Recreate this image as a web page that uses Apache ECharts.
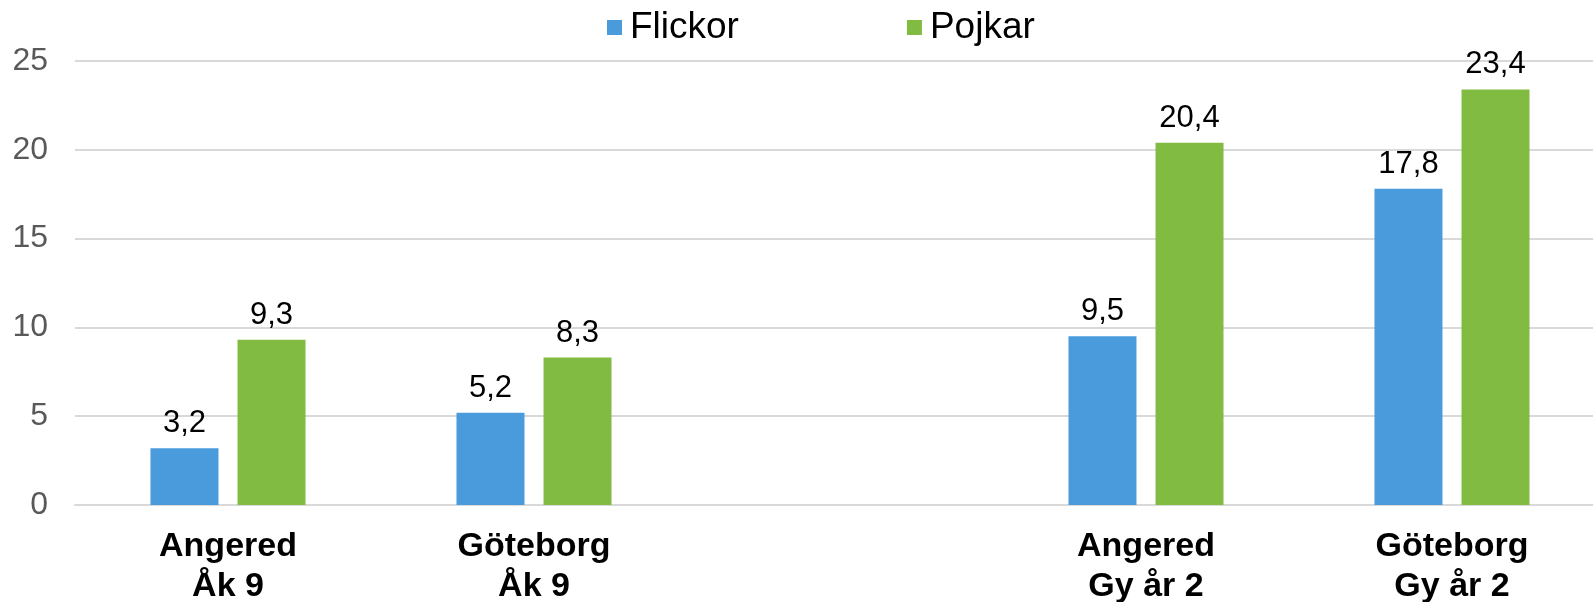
<!DOCTYPE html>
<html>
<head>
<meta charset="utf-8">
<script src="https://cdn.jsdelivr.net/npm/echarts@6/dist/echarts.min.js"></script>
<style>
    html, body { margin: 0; padding: 0; background: #fff; }
    #chart { width: 1593px; height: 602px; }
</style>
</head>
<body>
<div id="chart"></div>
<script>
var categories = ['Angered\nÅk 9', 'Göteborg\nÅk 9', '', 'Angered\nGy år 2', 'Göteborg\nGy år 2'];
var flickor = [3.2, 5.2, null, 9.5, 17.8];
var pojkar = [9.3, 8.3, null, 20.4, 23.4];
var yTicks = [0, 5, 10, 15, 20, 25];

var myChart = echarts.init(document.getElementById('chart'));

function commaLabel(p) {
    return String(p.value).replace('.', ',');
}

var option = {
    textStyle: { fontFamily: 'Liberation Sans, Arial, sans-serif' },
    legend: {
        top: 4,
        left: 602,
        itemWidth: 15,
        itemHeight: 15,
        itemGap: 168,
        icon: 'rect',
        textStyle: { fontSize: 37, color: '#000', padding: [0, 0, 0, 3] },
        data: ['Flickor', 'Pojkar']
    },
    grid: {
        left: 75,
        top: 61,
        bottom: 97,
        width: 1530,
        outerBoundsMode: 'none'
    },
    xAxis: {
        type: 'category',
        data: categories,
        axisLine: { lineStyle: { color: '#d9d9d9', width: 2 } },
        axisTick: { show: false },
        axisLabel: {
            fontSize: 34,
            fontWeight: 'bold',
            color: '#000',
            lineHeight: 40,
            margin: 22,
            interval: 0
        }
    },
    yAxis: {
        type: 'value',
        min: yTicks[0],
        max: yTicks[yTicks.length - 1],
        interval: 5,
        axisLine: { show: false },
        axisTick: { show: false },
        splitLine: { lineStyle: { color: '#d9d9d9', width: 2 } },
        axisLabel: { fontSize: 32, color: '#595959', margin: 27 }
    },
    series: [
        {
            name: 'Flickor',
            type: 'bar',
            data: flickor,
            barWidth: 68,
            barGap: '28%',
            itemStyle: { color: '#4a9bdc' },
            label: { show: true, position: 'top', distance: 9, fontSize: 31, color: '#000', formatter: commaLabel }
        },
        {
            name: 'Pojkar',
            type: 'bar',
            data: pojkar,
            barWidth: 68,
            barGap: '28%',
            itemStyle: { color: '#82bb42' },
            label: { show: true, position: 'top', distance: 9, fontSize: 31, color: '#000', formatter: commaLabel }
        }
    ]
};

myChart.setOption(option);
</script>
</body>
</html>
